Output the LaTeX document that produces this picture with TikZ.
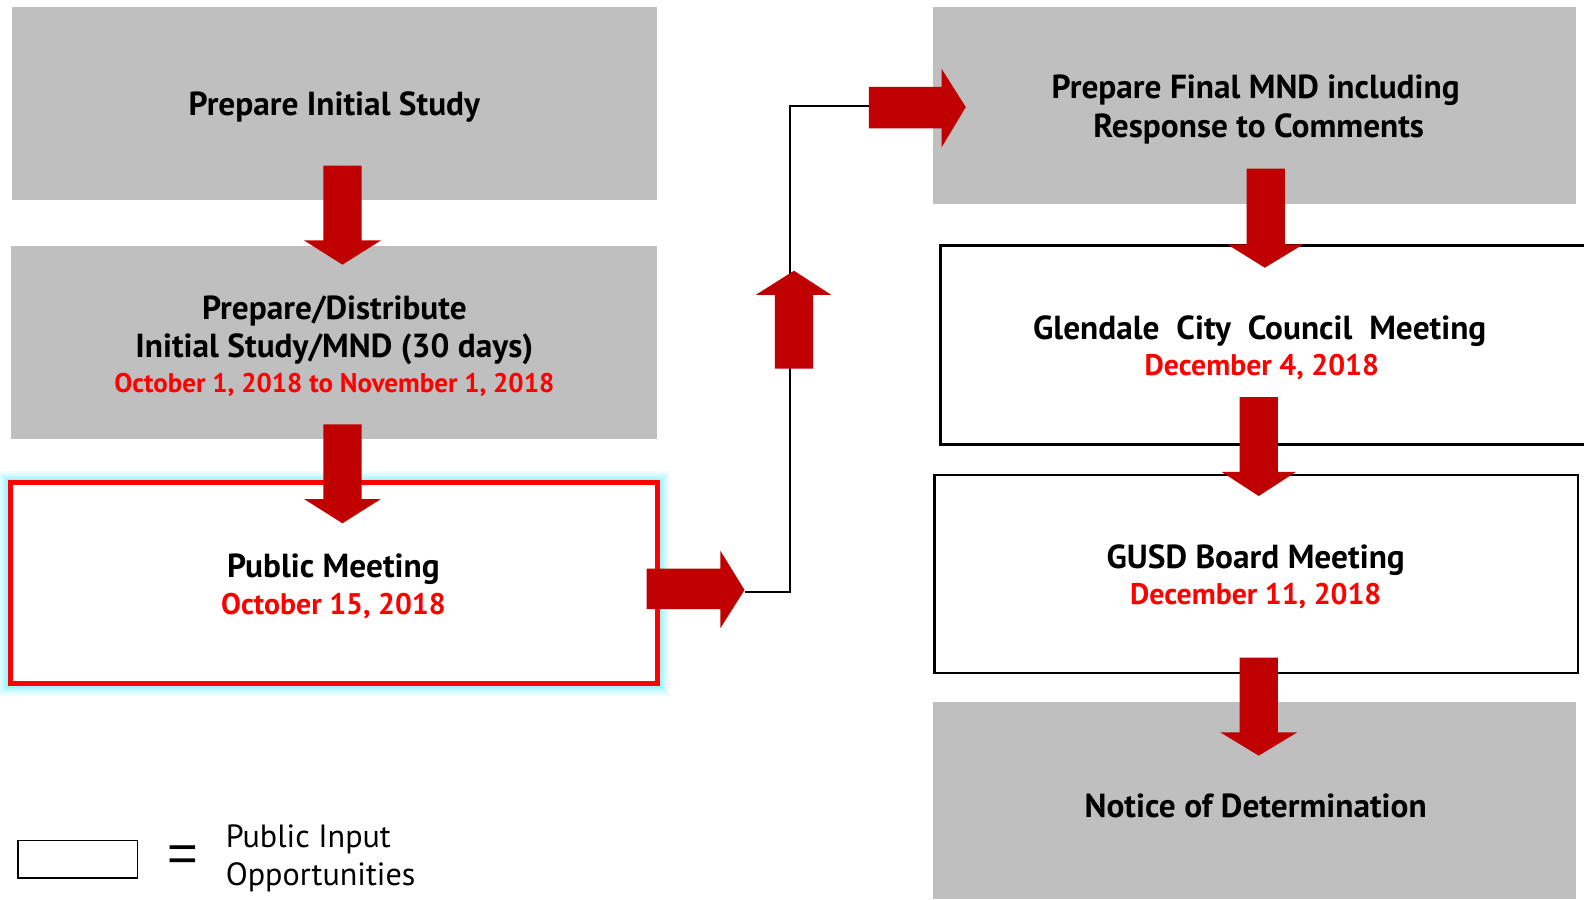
\documentclass[tikz,border=0pt]{standalone}
\usepackage{fontspec}
\setmainfont{PT Sans}
\newfontfamily\eqfont{Liberation Sans}
\definecolor{boxgray}{HTML}{BFBFBF}
\definecolor{arrred}{HTML}{C00000}
\definecolor{datered}{HTML}{FF0000}
\definecolor{glowc}{HTML}{7FF0FF}
\begin{document}
\begin{tikzpicture}[x=1pt,y=-1pt,
  graybox/.style={fill=boxgray,draw=none,inner sep=0pt},
  whitebox/.style={fill=white,draw=black,line width=2.5pt,inner sep=0pt},
  ttl/.style={font=\bfseries\fontsize{33}{38}\selectfont,align=center,yshift=-2.5pt},
  dte/.style={font=\bfseries\fontsize{29.5}{34}\selectfont,text=datered,align=center,yshift=-2.5pt},
  blk/.style={fill=arrred}]
\useasboundingbox (0,0) rectangle (1568,890);
% boxes
\node[graybox,minimum width=638pt,minimum height=191pt] (b1) at (331,102.5) {};
\node[graybox,minimum width=639pt,minimum height=191pt] (b2) at (330.5,339.5) {};
% glow
\foreach \w/\o in {24/0.12,20/0.15,16/0.2,12/0.3,8/0.4}
  \draw[glowc,line width=\w pt,opacity=\o] (10,478) rectangle (651,677);
\node[fill=white,draw=datered,line width=5pt,minimum width=641pt,minimum height=199pt,inner sep=0pt] (b3) at (330.5,577.5) {};
\node[graybox,minimum width=636pt,minimum height=195pt] (r1) at (1242,104.5) {};
\node[whitebox,minimum width=640pt,minimum height=197pt] (r2) at (1251,341.5) {};
\node[whitebox,minimum width=637pt,minimum height=196pt] (r3) at (1243.5,568) {};
\node[graybox,minimum width=636pt,minimum height=195pt] (r4) at (1242,792.5) {};
% texts
\node[ttl] (t1) at (331,103) {Prepare Initial Study};
\node[ttl] (t2) at (331,305) {Prepare/Distribute};
\node[ttl] (t2b) at (331,343) {Initial Study/MND (30 days)};
\node[dte,font=\bfseries\fontsize{26.7}{30}\selectfont] (d2) at (331,378) {October 1, 2018 to November 1, 2018};
\node[ttl] (t3) at (330,561) {Public Meeting};
\node[dte] (d3) at (330,597) {October 15, 2018};
\node[ttl] (tr1) at (1243,87) {Prepare Final MND including};
\node[ttl] (tr1b) at (1246,125) {Response to Comments};
\node[ttl] (tr2) at (1247,325) {Glendale\ \ City\ \ Council\ \ Meeting};
\node[dte] (dr2) at (1249,361) {December 4, 2018};
\node[ttl] (tr3) at (1243,552) {GUSD Board Meeting};
\node[dte] (dr3) at (1243,588) {December 11, 2018};
\node[ttl] (tr4) at (1243,795) {Notice of Determination};
% connector line
\coordinate (pmtip) at (737,586);
\coordinate (topin) at (860,105);
\draw[black,line width=2pt] (pmtip) -- (782,586) -- (782,105) -- (topin);
% block arrows
\fill[blk] (320,164) -- (358,164) -- (358,238) -- (377,238) -- (339,262) -- (301,238) -- (320,238) -- cycle;
\fill[blk] (320,420) -- (358,420) -- (358,494) -- (377,494) -- (339,518) -- (301,494) -- (320,494) -- cycle;
\fill[blk] (640,563) -- (713,563) -- (713,545) -- (737,584) -- (713,622) -- (713,603) -- (640,603) -- cycle;
\fill[blk] (767,365) -- (767,292) -- (748,292) -- (786,268) -- (823,292) -- (805,292) -- (805,365) -- cycle;
\fill[blk] (860,86) -- (932,86) -- (932,68) -- (956,106) -- (932,146) -- (932,127) -- (860,127) -- cycle;
\fill[blk] (1234,167) -- (1272,167) -- (1272,242) -- (1290,242) -- (1252,265) -- (1215,242) -- (1234,242) -- cycle;
\fill[blk] (1227,393) -- (1265,393) -- (1265,467) -- (1283,467) -- (1246,491) -- (1209,467) -- (1227,467) -- cycle;
\fill[blk] (1227,651) -- (1265,651) -- (1265,725) -- (1284,725) -- (1246,748) -- (1208,725) -- (1227,725) -- cycle;
% legend
\node[fill=white,draw=black,line width=1.5pt,minimum width=118pt,minimum height=37pt,inner sep=0pt] (leg) at (77,850.5) {};
\node[font=\eqfont\fontsize{52}{56}\selectfont] (eq) at (181,850) {=};
\node[font=\fontsize{31.8}{37}\selectfont,align=left,anchor=west] (legt) at (220,849.5) {Public Input\\Opportunities};
\end{tikzpicture}
\end{document}
